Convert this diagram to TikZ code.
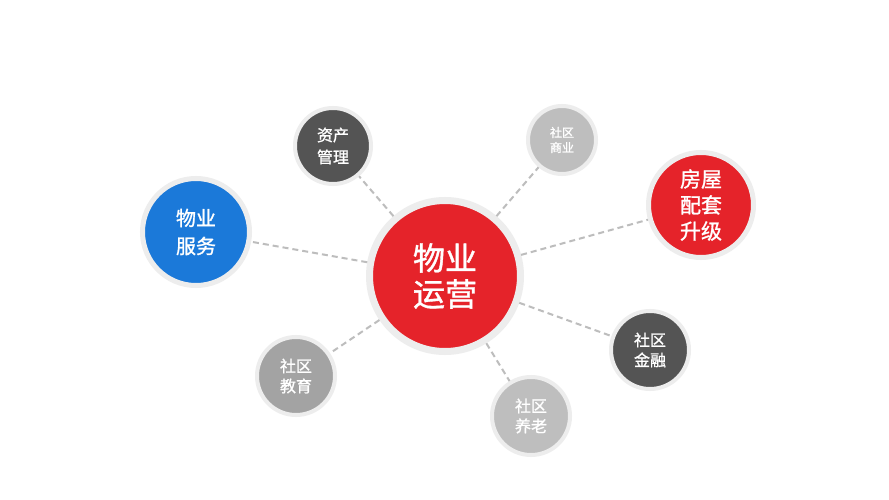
\documentclass[tikz,border=0pt]{standalone}
\usepackage{fontspec}
\newfontfamily\cjk[AutoFakeBold=1.2]{Noto Sans CJK SC}
\definecolor{cred}{HTML}{E5232A}
\definecolor{cblue}{HTML}{1B79D9}
\definecolor{cdark}{HTML}{545454}
\definecolor{cmid}{HTML}{A3A3A3}
\definecolor{clight}{HTML}{BEBEBE}
\definecolor{cring}{HTML}{EDEDED}
\definecolor{cdash}{HTML}{BDBDBD}
\tikzset{
  bubble/.style={circle, inner sep=0pt, draw=cring, text=white, align=center},
  conn/.style={draw=cdash, line width=2pt, dash pattern=on 6pt off 4pt},
}
\begin{document}
\begin{tikzpicture}[x=1pt,y=-1pt]
\useasboundingbox[fill=white] (0,0) rectangle (889,500);
\node[bubble, fill=cred, minimum size=151pt, line width=7pt, outer sep=3.5pt,
  font=\cjk\bfseries\fontsize{32}{36}\selectfont] (c) at (445,276) {物业\\运营};
\node[bubble, fill=cblue, minimum size=107pt, line width=5pt, outer sep=2.5pt,
  font=\cjk\bfseries\fontsize{20}{28}\selectfont] (fw) at (196,232) {物业\\服务};
\node[bubble, fill=cdark, minimum size=76pt, line width=4pt, outer sep=2pt,
  font=\cjk\bfseries\fontsize{16}{22}\selectfont] (zc) at (333,146) {资产\\管理};
\node[bubble, fill=clight, minimum size=68pt, line width=4pt, outer sep=2pt,
  font=\cjk\bfseries\fontsize{12}{15}\selectfont] (sy) at (562,140) {社区\\商业};
\node[bubble, fill=cred, minimum size=105pt, line width=5pt, outer sep=2.5pt,
  font=\cjk\bfseries\fontsize{21}{26}\selectfont] (fy) at (701,205) {房屋\\配套\\升级};
\node[bubble, fill=cmid, minimum size=78pt, line width=4pt, outer sep=2pt,
  font=\cjk\bfseries\fontsize{16}{20}\selectfont] (jy) at (296,376) {社区\\教育};
\node[bubble, fill=clight, minimum size=78pt, line width=4pt, outer sep=2pt,
  font=\cjk\bfseries\fontsize{16}{20}\selectfont] (yl) at (531,416) {社区\\养老};
\node[bubble, fill=cdark, minimum size=78pt, line width=4pt, outer sep=2pt,
  font=\cjk\bfseries\fontsize{16}{20}\selectfont] (jr) at (650,350) {社区\\金融};
\draw[conn] (c) -- (fw);
\draw[conn] (c) -- (zc);
\draw[conn] (c) -- (sy);
\draw[conn] (c) -- (fy);
\draw[conn] (c) -- (jy);
\draw[conn] (c) -- (yl);
\draw[conn] (c) -- (jr);
\end{tikzpicture}
\end{document}
